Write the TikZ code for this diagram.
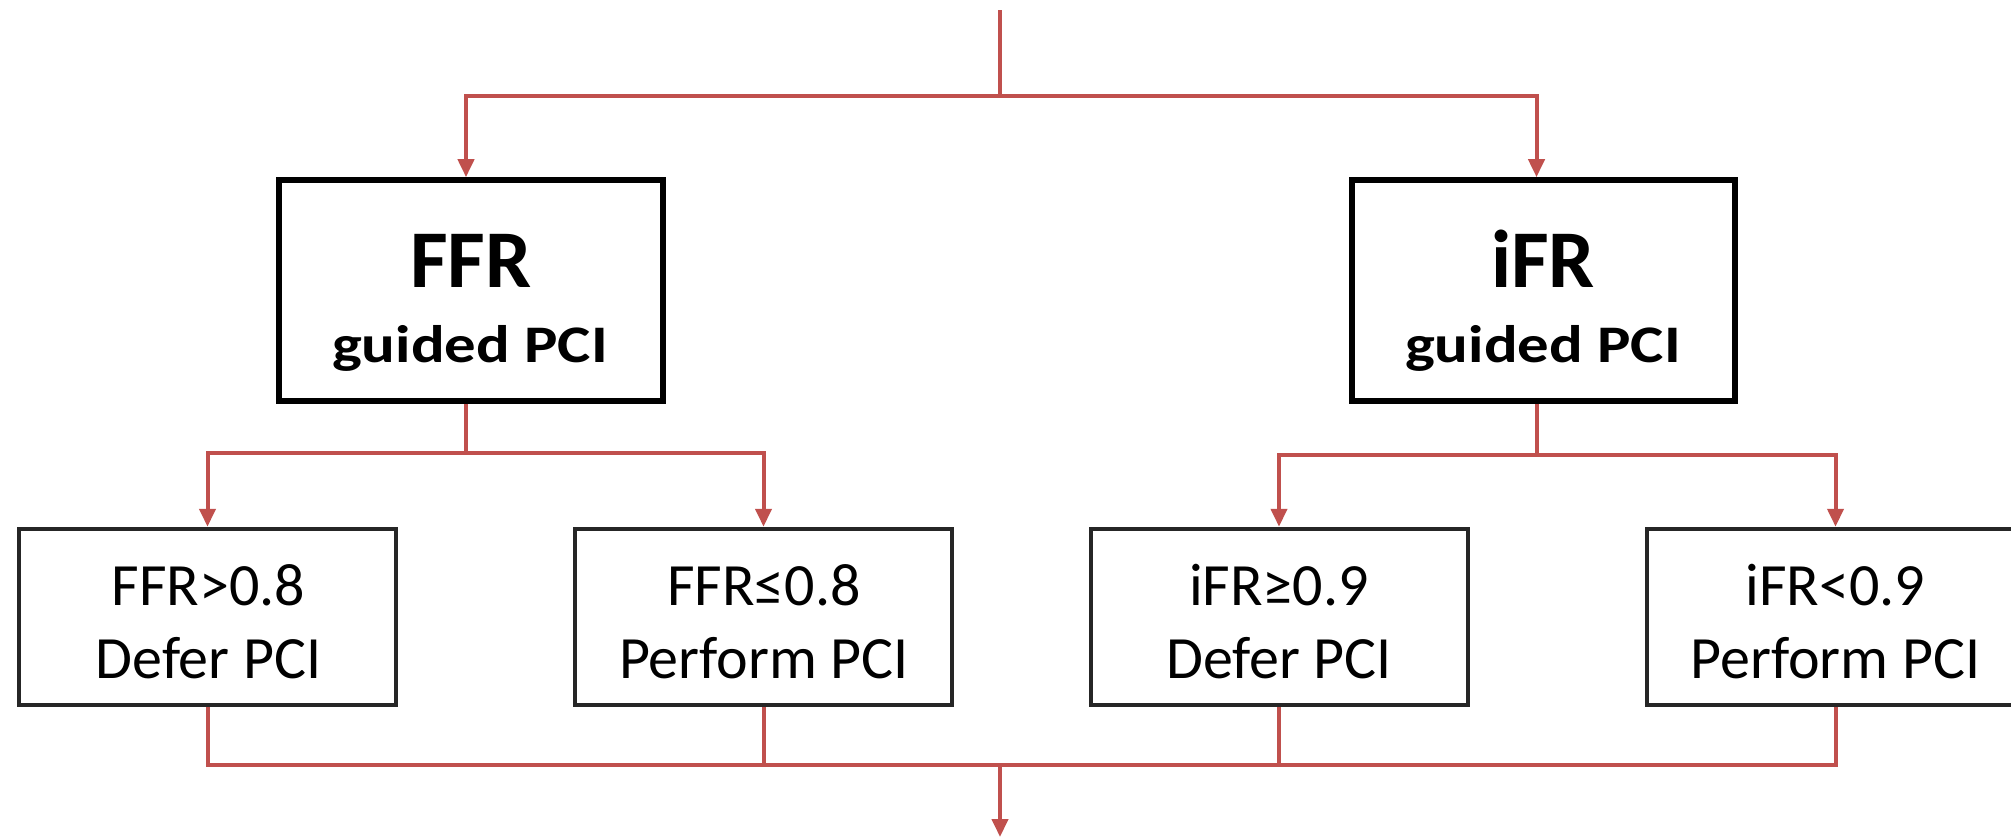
\documentclass[tikz,border=0pt]{standalone}
\usepackage{fontspec}
\setmainfont{Carlito}
\usepackage{graphicx}
\usetikzlibrary{arrows.meta}
\definecolor{linered}{HTML}{C0504D}
\begin{document}
\begin{tikzpicture}[x=0.5pt,y=-0.5pt,
  conn/.style={draw=linered,line width=2pt},
  arr/.style={conn,-{Triangle[length=9pt,width=8pt]}},
  bigbox/.style={draw=black,line width=2.8pt,minimum width=191.75pt,minimum height=110.5pt,inner sep=0pt},
  smallbox/.style={draw=black!85,line width=2pt,minimum width=188.5pt,minimum height=88.25pt,inner sep=0pt},
  titletxt/.style={anchor=base,inner sep=0pt,font=\fontsize{41}{41}\selectfont\bfseries},
  subtxt/.style={anchor=base,inner sep=0pt,font=\fontsize{26.4}{30}\selectfont\bfseries},
  smalltxt/.style={anchor=base,inner sep=0pt,font=\fontsize{30}{36}\selectfont},
]
\useasboundingbox (0,0) rectangle (2011,837);
% top level boxes
\node[bigbox] (ffr) at (471,290.5) {};
\node[titletxt] (ffrA) at (471,287) {FFR};
\node[subtxt] (ffrB) at (470,362) {\scalebox{1.19}[1]{guided PCI}};
\node[bigbox] (ifr) at (1543.5,290.5) {};
\node[titletxt] (ifrA) at (1543,287) {iFR};
\node[subtxt] (ifrB) at (1543,362) {\scalebox{1.19}[1]{guided PCI}};
% second level boxes
\node[smallbox] (b1) at (207.5,617) {};
\node[smalltxt] (b1a) at (208.5,605) {FFR>0.8};
\node[smalltxt] (b1b) at (208.5,678) {Defer PCI};
\node[smallbox] (b2) at (763.5,617) {};
\node[smalltxt] (b2a) at (764,605) {FFR≤0.8};
\node[smalltxt] (b2b) at (764,678) {Perform PCI};
\node[smallbox] (b3) at (1279,617) {};
\node[smalltxt] (b3a) at (1279,605) {iFR≥0.9};
\node[smalltxt] (b3b) at (1279,678) {Defer PCI};
\node[smallbox] (b4) at (1835.5,617) {};
\node[smalltxt] (b4a) at (1835.5,605) {iFR<0.9};
\node[smalltxt] (b4b) at (1835.5,678) {Perform PCI};
% connectors
\coordinate (start) at (1000,10);
\coordinate (fork) at (1000,96);
\draw[conn] (start) -- (fork);
\draw[arr] (fork) -| ([xshift=-2.5pt]ffr.north);
\draw[arr] (fork) -| ([xshift=-3.5pt]ifr.north);
\draw[conn] ([xshift=-2.5pt]ffr.south) -- ++(0,49) coordinate (ffork);
\draw[arr] (ffork) -| (b1.north);
\draw[arr] (ffork) -| (b2.north);
\draw[conn] ([xshift=-3.5pt]ifr.south) -- ++(0,51) coordinate (ifork);
\draw[arr] (ifork) -| (b3.north);
\draw[arr] (ifork) -| (b4.north);
\coordinate (merge) at (1000,765);
\coordinate (finish) at (1000,837);
\draw[conn] (b1.south) |- (merge);
\draw[conn] (b2.south) |- (merge);
\draw[conn] (b3.south) |- (merge);
\draw[conn] (b4.south) |- (merge);
\draw[arr] (merge) -- (finish);
\end{tikzpicture}
\end{document}
